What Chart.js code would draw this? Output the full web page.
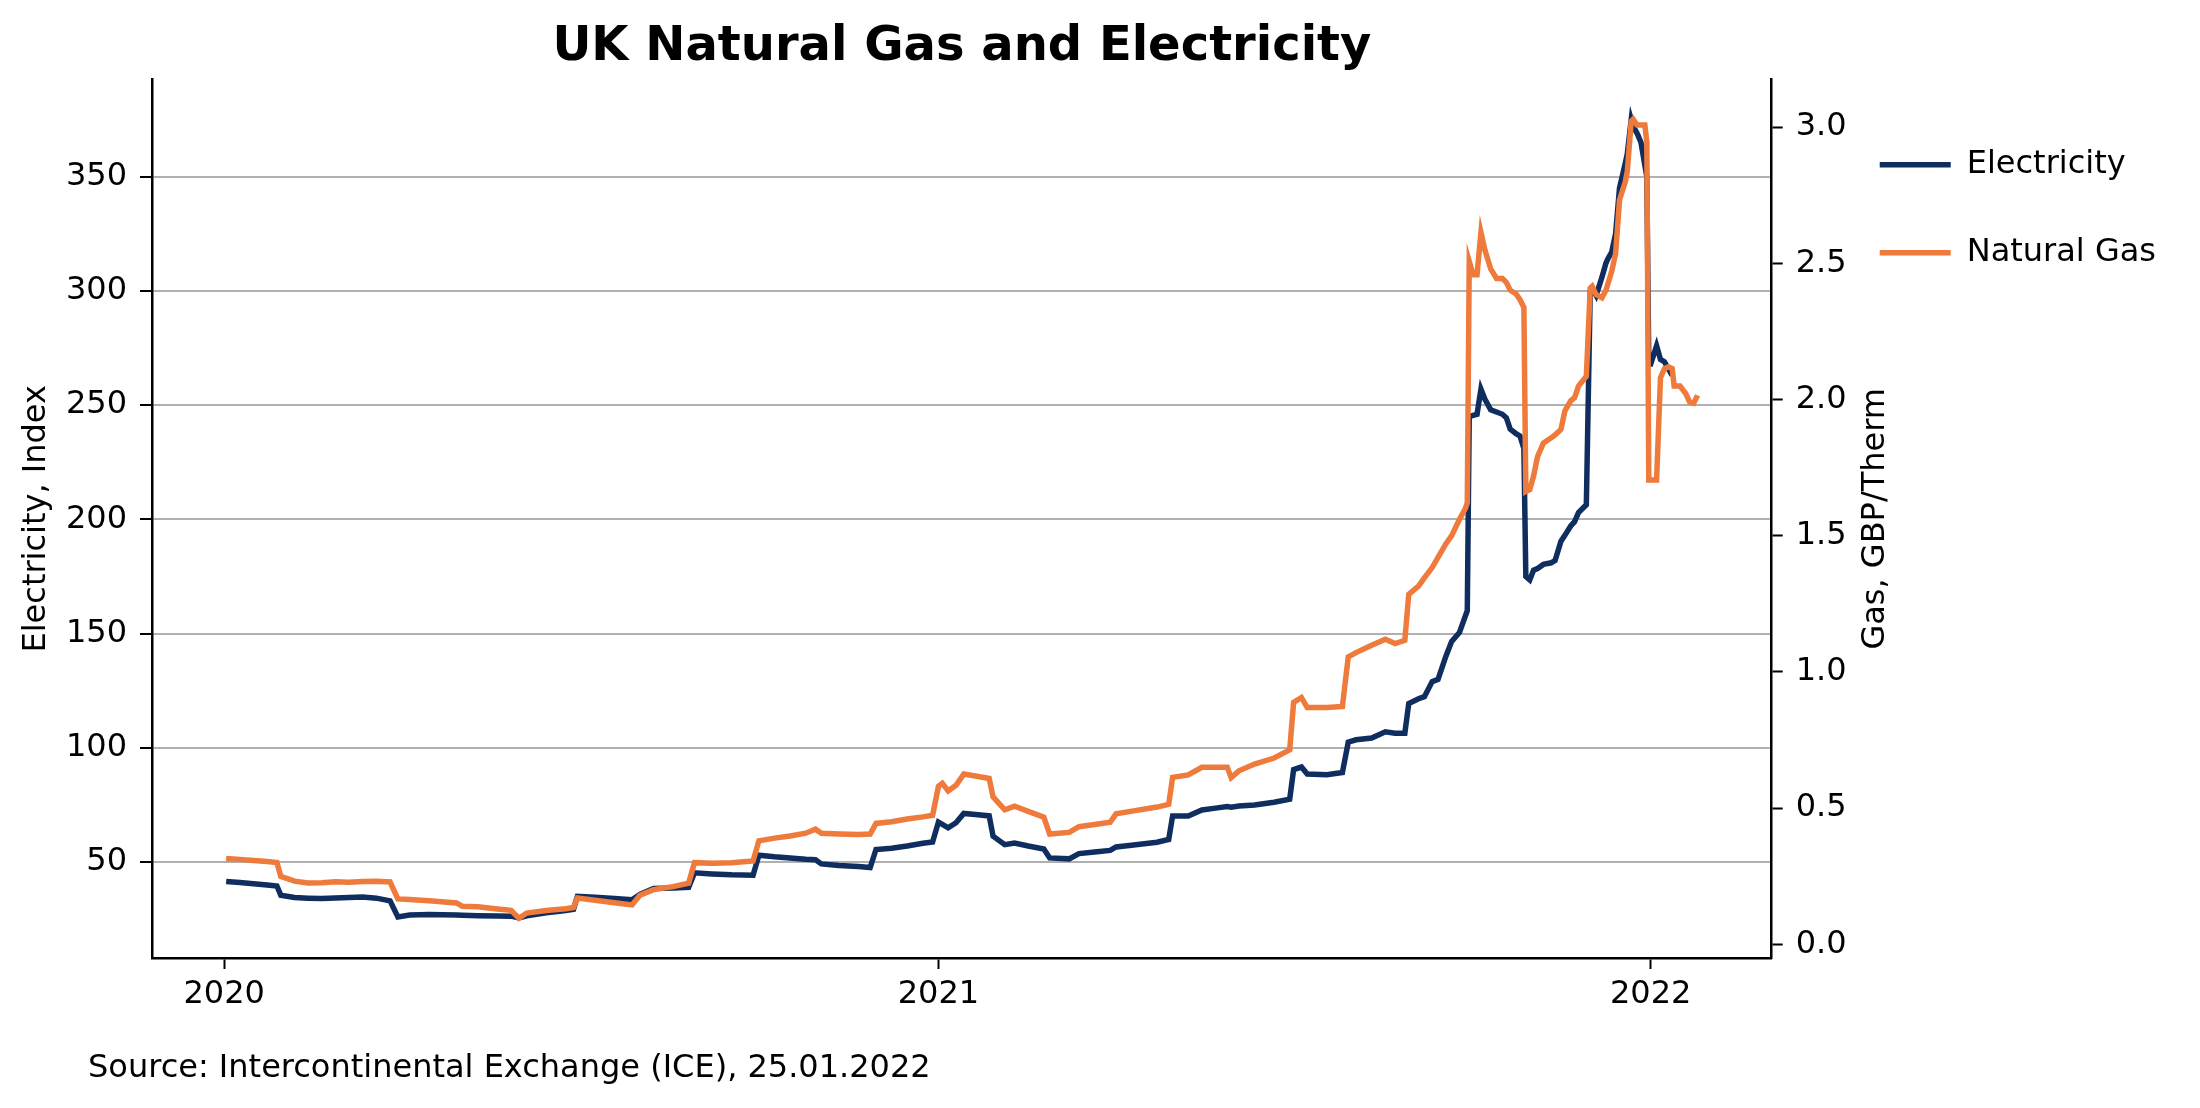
<!DOCTYPE html>
<html>
<head>
<meta charset="utf-8">
<title>UK Natural Gas and Electricity</title>
<script src="https://cdn.jsdelivr.net/npm/chart.js@4"></script>
<style>
  html, body { margin: 0; padding: 0; background: #fff; }
  #grafico { display: block; }
</style>
</head>
<body>
<canvas id="grafico" width="2200" height="1108"></canvas>
<script>
// DATOS
const dates = [
  '2020-01-02','2020-01-09','2020-01-16','2020-01-23','2020-01-28','2020-01-30','2020-02-06','2020-02-13',
  '2020-02-20','2020-02-27','2020-03-05','2020-03-12','2020-03-19','2020-03-26','2020-03-30','2020-04-05',
  '2020-04-15','2020-04-29','2020-05-02','2020-05-10','2020-05-20','2020-05-27','2020-05-31','2020-06-04',
  '2020-06-14','2020-06-24','2020-06-28','2020-06-30','2020-07-09','2020-07-19','2020-07-28','2020-08-01',
  '2020-08-08','2020-08-18','2020-08-26','2020-08-29','2020-09-07','2020-09-17','2020-09-28','2020-10-01',
  '2020-10-09','2020-10-17','2020-10-25','2020-10-30','2020-11-02','2020-11-11','2020-11-21','2020-11-27',
  '2020-11-30','2020-12-08','2020-12-16','2020-12-24','2020-12-29',
  '2021-01-01','2021-01-03','2021-01-06','2021-01-10','2021-01-14','2021-01-20','2021-01-27','2021-01-29',
  '2021-02-04','2021-02-09','2021-02-16','2021-02-24','2021-02-27','2021-03-09','2021-03-14','2021-03-22',
  '2021-03-30','2021-04-02','2021-04-11','2021-04-23','2021-04-29','2021-05-01','2021-05-09','2021-05-16',
  '2021-05-23','2021-05-29','2021-05-31','2021-06-04','2021-06-12','2021-06-22','2021-06-30','2021-07-02',
  '2021-07-06','2021-07-09','2021-07-19','2021-07-27','2021-07-30','2021-08-03','2021-08-11','2021-08-18',
  '2021-08-23','2021-08-28','2021-08-30','2021-09-04','2021-09-07','2021-09-11','2021-09-14','2021-09-18',
  '2021-09-21','2021-09-25','2021-09-28','2021-09-29','2021-09-30','2021-10-02','2021-10-04','2021-10-06',
  '2021-10-08','2021-10-11','2021-10-14','2021-10-17','2021-10-19','2021-10-21','2021-10-24','2021-10-26',
  '2021-10-28','2021-10-29','2021-10-31','2021-11-02','2021-11-04','2021-11-07','2021-11-11','2021-11-13',
  '2021-11-16','2021-11-18','2021-11-21','2021-11-23','2021-11-25','2021-11-29','2021-12-01','2021-12-02',
  '2021-12-04','2021-12-07','2021-12-09','2021-12-10','2021-12-12','2021-12-14','2021-12-16','2021-12-19',
  '2021-12-20','2021-12-22','2021-12-23','2021-12-25','2021-12-27','2021-12-29','2021-12-30','2021-12-31',
  '2022-01-01','2022-01-04','2022-01-06','2022-01-08','2022-01-10','2022-01-12','2022-01-13','2022-01-16',
  '2022-01-19','2022-01-21','2022-01-23','2022-01-25'
];

const electricity = [
  41.5, 41.0, 40.5, 40.0, 39.5, 35.5, 34.5, 34.2,
  34.0, 34.3, 34.5, 34.7, 34.2, 33.0, 26.0, 26.8,
  27.0, 26.8, 26.7, 26.5, 26.4, 26.3, 25.5, 26.5,
  27.8, 28.8, 29.3, 35.0, 34.6, 34.0, 33.5, 35.8,
  38.4, 38.6, 38.9, 45.3, 44.8, 44.4, 44.2, 53.0,
  52.3, 51.8, 51.2, 51.0, 49.2, 48.5, 48.0, 47.6,
  55.5, 56.0, 57.0, 58.2, 58.8,
  67.5, 66.5, 65.0, 67.2, 71.3, 70.8, 70.2, 61.3,
  57.6, 58.3, 57.0, 55.7, 51.8, 51.4, 53.7, 54.4,
  55.1, 56.6, 57.5, 58.7, 59.9, 70.2, 70.2, 72.8,
  73.6, 74.3, 74.0, 74.5, 75.0, 76.2, 77.5, 90.5,
  91.6, 88.5, 88.2, 89.2, 102.5, 103.5, 104.3, 107.0,
  106.4, 106.4, 119.4, 121.5, 122.4, 129.0, 130.0, 140.0,
  146.6, 150.5, 157.7, 160.0, 245.0, 245.5, 246.0, 257.0,
  252.7, 248.0, 247.0, 246.0, 244.5, 239.5, 237.5, 236.5,
  231.0, 175.0, 173.5, 177.8, 178.5, 180.3, 181.0, 182.0,
  190.4, 193.0, 197.1, 199.0, 203.0, 206.4, 300.0, 301.0,
  298.0, 306.0, 312.0, 314.0, 317.0, 325.0, 345.0, 356.0,
  360.0, 375.0, 372.0, 369.0, 365.0, 355.0, 350.0, 268.0,
  268.0, 276.0, 270.0, 269.0, 266.0, 263.0, null, null,
  null, null, null, null
];

const gas = [
  0.315, 0.312, 0.308, 0.304, 0.300, 0.250, 0.232, 0.225,
  0.226, 0.230, 0.228, 0.231, 0.232, 0.229, 0.167, 0.165,
  0.160, 0.152, 0.140, 0.138, 0.130, 0.125, 0.096, 0.115,
  0.124, 0.131, 0.135, 0.170, 0.162, 0.153, 0.145, 0.180,
  0.201, 0.212, 0.225, 0.300, 0.298, 0.300, 0.306, 0.380,
  0.390, 0.398, 0.408, 0.423, 0.408, 0.405, 0.403, 0.405,
  0.444, 0.450, 0.460, 0.468, 0.474,
  0.580, 0.591, 0.563, 0.584, 0.625, 0.618, 0.609, 0.541,
  0.494, 0.507, 0.488, 0.467, 0.405, 0.411, 0.432, 0.440,
  0.448, 0.479, 0.490, 0.504, 0.514, 0.613, 0.622, 0.650,
  0.650, 0.650, 0.612, 0.637, 0.662, 0.684, 0.714, 0.888,
  0.906, 0.869, 0.869, 0.873, 1.055, 1.071, 1.098, 1.120,
  1.104, 1.116, 1.285, 1.315, 1.345, 1.383, 1.420, 1.470,
  1.500, 1.560, 1.600, 1.620, 2.507, 2.458, 2.458, 2.613,
  2.549, 2.479, 2.444, 2.444, 2.430, 2.401, 2.387, 2.366,
  2.338, 1.662, 1.669, 1.720, 1.790, 1.840, 1.859, 1.870,
  1.890, 1.958, 1.995, 2.007, 2.049, 2.085, 2.408, 2.415,
  2.385, 2.373, 2.400, 2.423, 2.470, 2.535, 2.732, 2.800,
  2.838, 3.021, 3.028, 3.007, 3.007, 3.007, 2.944, 1.704,
  1.704, 1.704, 2.080, 2.113, 2.120, 2.113, 2.049, 2.049,
  2.021, 1.990, 1.986, 2.015
];

const yearTicks = ['2020-01-01', '2021-01-01', '2022-01-01'];
const elecTicks = [50, 100, 150, 200, 250, 300, 350];
const gasTicks = [0, 0.5, 1.0, 1.5, 2.0, 2.5, 3.0];

// dias desde 01.01.2020
function dia(fecha){
    return (Date.parse(fecha) - Date.parse('2020-01-01')) / 86400000;
}

Chart.defaults.font.family = '"DejaVu Sans", sans-serif';
Chart.defaults.font.size = 32;
Chart.defaults.color = '#000';

// etiqueta del eje derecho (de abajo hacia arriba) y la fuente al pie
const textosExtra = {
    id: 'textosExtra',
    afterDraw(chart){
        const ctx = chart.ctx;
        const area = chart.chartArea;
        ctx.save();
        ctx.font = '32px "DejaVu Sans", sans-serif';
        ctx.fillStyle = '#000';
        ctx.textBaseline = 'middle';
        ctx.textAlign = 'left';
        ctx.fillText('Source: Intercontinental Exchange (ICE), 25.01.2022', 88, 1069);
        ctx.translate(area.right + 104, (area.top + area.bottom) / 2);
        ctx.rotate(-Math.PI / 2);
        ctx.textAlign = 'center';
        ctx.fillText('Gas, GBP/Therm', 0, 0);
        ctx.restore();
    }
};

const canvas = document.querySelector('#grafico');
const myChart = new Chart(canvas, {
    type: 'line',
    data: {
        datasets: [
            {
                label: 'Electricity',
                data: dates.map((d, i) => ({x: dia(d), y: electricity[i]})),
                yAxisID: 'y',
                borderColor: '#0f2d5e',
                backgroundColor: '#0f2d5e',
                borderWidth: 5.5,
                pointRadius: 0,
                tension: 0,
                order: 1
            },
            {
                label: 'Natural Gas',
                data: dates.map((d, i) => ({x: dia(d), y: gas[i]})),
                yAxisID: 'gas',
                borderColor: '#ee7a3c',
                backgroundColor: '#ee7a3c',
                borderWidth: 5.5,
                pointRadius: 0,
                tension: 0,
                order: 0
            }
        ]
    },
    options: {
        responsive: false,
        animation: false,
        devicePixelRatio: 1,
        layout: {
            padding: {left: 0, right: 34, top: 0, bottom: 0}
        },
        plugins: {
            title: {
                display: true,
                text: 'UK Natural Gas and Electricity',
                fullSize: false,
                font: {size: 48, weight: 'bold'},
                padding: {top: 19, bottom: 3}
            },
            legend: {
                position: 'right',
                align: 'start',
                fullSize: false,
                title: {display: true, text: ' ', font: {size: 1}, padding: {top: 40, bottom: 0}},
                labels: {
                    usePointStyle: true,
                    pointStyle: 'line',
                    pointStyleWidth: 71,
                    padding: 28,
                    font: {size: 32, lineHeight: '60px'},
                    // texto como lista -> la altura de cada fila sale del lineHeight
                    generateLabels: (chart) => Chart.defaults.plugins.legend.labels.generateLabels(chart)
                        .map(item => Object.assign(item, {text: [item.text]})),
                    sort: (a, b) => a.datasetIndex - b.datasetIndex
                }
            },
            tooltip: {enabled: false}
        },
        scales: {
            x: {
                type: 'linear',
                min: dia('2019-11-25'),
                max: dia('2022-03-04'),
                afterBuildTicks: (axis) => { axis.ticks = yearTicks.map(d => ({value: dia(d)})); },
                afterFit: (axis) => { axis.height = 150; },
                ticks: {
                    callback: (v, i) => yearTicks[i].slice(0, 4),
                    padding: 6,
                    maxRotation: 0
                },
                grid: {drawOnChartArea: false, tickLength: 11, tickColor: '#000', tickWidth: 2},
                border: {color: '#000', width: 2.5}
            },
            y: {
                position: 'left',
                min: 8,
                max: 392.5,
                afterBuildTicks: (axis) => { axis.ticks = elecTicks.map(v => ({value: v})); },
                afterFit: (axis) => { axis.width = 152; },
                ticks: {padding: 13},
                title: {display: true, text: 'Electricity, Index', padding: {top: 17, bottom: 0}},
                grid: {color: '#b0b0b0', lineWidth: 2, tickLength: 12, tickColor: '#000', tickWidth: 2},
                border: {color: '#000', width: 2.5}
            },
            gas: {
                position: 'right',
                min: -0.05,
                max: 3.174,
                afterBuildTicks: (axis) => { axis.ticks = gasTicks.map(v => ({value: v})); },
                afterFit: (axis) => { axis.width = 80; },
                ticks: {padding: 13, callback: (v) => v.toFixed(1)},
                grid: {drawOnChartArea: false, tickLength: 11, tickColor: '#000', tickWidth: 2},
                border: {color: '#000', width: 2.5}
            }
        }
    },
    plugins: [textosExtra]
});
</script>
</body>
</html>
